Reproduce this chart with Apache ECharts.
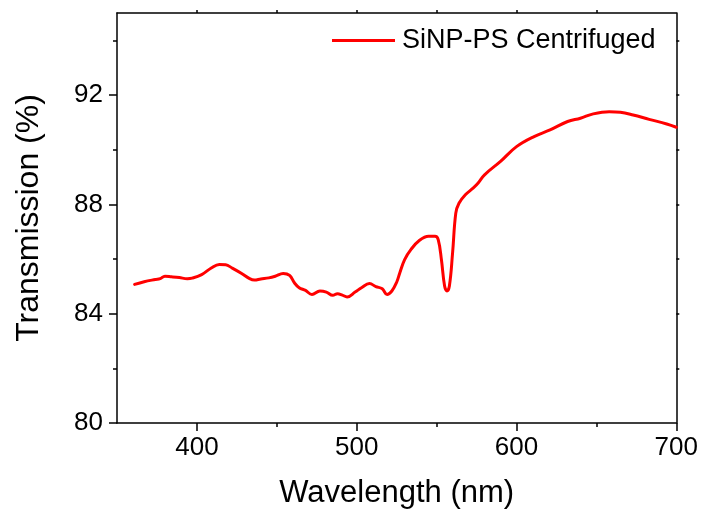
<!DOCTYPE html>
<html>
<head>
<meta charset="utf-8">
<script src="https://cdn.jsdelivr.net/npm/echarts@6/dist/echarts.min.js"></script>
<style>html,body{margin:0;padding:0;background:#fff}#c{width:701px;height:514px}</style>
</head>
<body>
<div id="c"></div>
<script>
var seriesName = 'SiNP-PS Centrifuged';
var wavelength = [361,367,374,377,380,384,389,394,397,403,409,414,418,422,428,433,436,440,445,449,454,458,461,464,468,472,477,481,485,488,491,494,499,503,508,512,516,519,522,525,527,530,534,539,545,549,551,553,555,556.5,558,560,562,564,568,573,576,580,590,600,611,621,632,640,648,658,665,673,683,694,700];
var transmission = [85.07,85.17,85.25,85.28,85.37,85.35,85.32,85.28,85.30,85.43,85.67,85.80,85.79,85.67,85.47,85.28,85.23,85.27,85.31,85.37,85.47,85.40,85.13,84.95,84.85,84.70,84.83,84.79,84.67,84.73,84.68,84.61,84.79,84.95,85.10,84.99,84.91,84.70,84.83,85.15,85.50,85.98,86.35,86.67,86.83,86.83,86.71,85.98,85.01,84.83,85.01,86.22,87.68,88.04,88.35,88.60,88.78,89.08,89.57,90.11,90.48,90.72,91.03,91.15,91.31,91.39,91.37,91.27,91.11,90.94,90.82];
var xMajorTicks = [400,500,600,700];
var xMinorTicks = [450,550,650];
var yMajorTicks = [80,84,88,92];
var yMinorTicks = [82,86,90,94];
var xTopTicks = [400,450,500,550,600,650];
var yRightTicks = [82,84,86,88,90,92,94];

var font = 'Liberation Sans, Arial, sans-serif';
var data = wavelength.map(function(w,i){return [w, transmission[i]];});
var lineStyle = {color:'#000', width:1.5};

var chart = echarts.init(document.getElementById('c'), null, {renderer:'canvas'});
chart.setOption({
  animation:false,
  backgroundColor:'#fff',
  grid:{left:117, right:21, top:13, bottom:90, containLabel:false},
  legend:{
    data:[seriesName], left:327, top:22, icon:'rect', itemWidth:63, itemHeight:3, itemGap:0,
    textStyle:{fontFamily:font, fontSize:27, color:'#000', padding:[0,0,0,2]}
  },
  xAxis:[
    {type:'value', min:350, max:700, position:'bottom',
     name:'Wavelength (nm)', nameLocation:'middle', nameGap:55,
     nameTextStyle:{fontFamily:font, fontSize:31, color:'#000'},
     axisLine:{show:true, onZero:false, lineStyle:lineStyle},
     axisTick:{show:true, inside:false, length:8, lineStyle:lineStyle, customValues:xMajorTicks},
     axisLabel:{show:true, fontFamily:font, fontSize:26, color:'#000', margin:12, customValues:xMajorTicks},
     splitLine:{show:false}},
    {type:'value', min:350, max:700, position:'bottom',
     axisLine:{show:false, onZero:false},
     axisTick:{show:true, inside:false, length:4, lineStyle:lineStyle, customValues:xMinorTicks},
     axisLabel:{show:false}, splitLine:{show:false}},
    {type:'value', min:350, max:700, position:'top',
     axisLine:{show:true, onZero:false, lineStyle:lineStyle},
     axisTick:{show:true, inside:false, length:3, lineStyle:lineStyle, customValues:xTopTicks},
     axisLabel:{show:false}, splitLine:{show:false}}
  ],
  yAxis:[
    {type:'value', min:80, max:95, position:'left',
     name:'Transmission (%)', nameLocation:'middle', nameGap:72,
     nameTextStyle:{fontFamily:font, fontSize:32, color:'#000'},
     axisLine:{show:true, onZero:false, lineStyle:lineStyle},
     axisTick:{show:true, inside:false, length:8, lineStyle:lineStyle, customValues:yMajorTicks},
     axisLabel:{show:true, fontFamily:font, fontSize:26, color:'#000', margin:14, customValues:yMajorTicks},
     splitLine:{show:false}},
    {type:'value', min:80, max:95, position:'left',
     axisLine:{show:false, onZero:false},
     axisTick:{show:true, inside:false, length:4, lineStyle:lineStyle, customValues:yMinorTicks},
     axisLabel:{show:false}, splitLine:{show:false}},
    {type:'value', min:80, max:95, position:'right',
     axisLine:{show:true, onZero:false, lineStyle:lineStyle},
     axisTick:{show:true, inside:false, length:3, lineStyle:lineStyle, customValues:yRightTicks},
     axisLabel:{show:false}, splitLine:{show:false}}
  ],
  series:[{
    name:seriesName, type:'line', xAxisIndex:0, yAxisIndex:0,
    data:data, showSymbol:false, symbol:'none', smooth:0.4,
    lineStyle:{color:'#ff0000', width:3, join:'round', cap:'round'}, itemStyle:{color:'#ff0000'}
  }]
});
</script>
</body>
</html>
